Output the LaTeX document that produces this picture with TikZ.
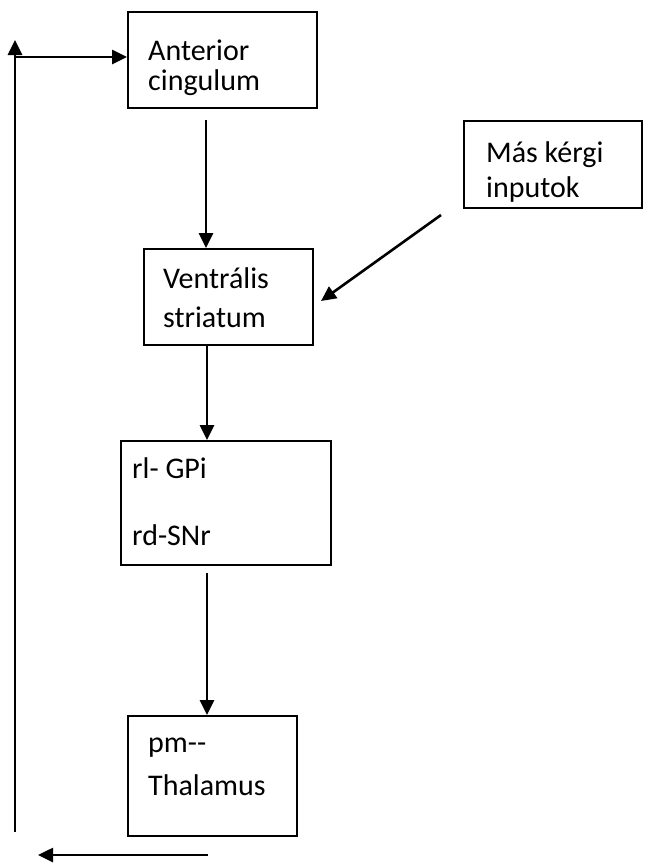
\documentclass[tikz,border=0pt]{standalone}
\usepackage{fontspec}
\setmainfont{Carlito}
\usetikzlibrary{arrows.meta}
\begin{document}
\begin{tikzpicture}[x=1pt,y=-1pt,
  box/.style={draw,line width=2pt,inner sep=0pt,anchor=north west},
  lbl/.style={anchor=base west,inner sep=0pt,font=\fontsize{30}{36}\selectfont},
  conn/.style={line width=2.6pt,-{Triangle[length=15pt,width=14pt]}}]
\useasboundingbox (0,0) rectangle (650,865);
% boxes
\node[box,minimum width=189pt,minimum height=96pt] (ac) at (127,11) {};
\node[box,minimum width=178pt,minimum height=87pt] (mk) at (463,120) {};
\node[box,minimum width=169pt,minimum height=96pt] (vs) at (143,248) {};
\node[box,minimum width=210pt,minimum height=124pt] (gp) at (120,440) {};
\node[box,minimum width=169pt,minimum height=120pt] (th) at (127,715) {};
% labels
\node[lbl] (t1) at (148,60) {Anterior};
\node[lbl] (t2) at (148,90) {cingulum};
\node[lbl] (t3) at (486,162) {Más kérgi};
\node[lbl] (t4) at (486,197) {inputok};
\node[lbl] (t5) at (163,288) {Ventrális};
\node[lbl] (t6) at (163,327) {striatum};
\node[lbl] (t7) at (132,478) {rl- GPi};
\node[lbl] (t8) at (132,545) {rd-SNr};
\node[lbl] (t9) at (148,752) {pm-{}-};
\node[lbl] (t10) at (148,795) {Thalamus};
% connector end points
\coordinate (a1) at (206,120);
\coordinate (a2) at (206,248);
\coordinate (b1) at (441,215);
\coordinate (b2) at (321,301);
\coordinate (c1) at (207,344);
\coordinate (c2) at (207,440);
\coordinate (d1) at (207,573);
\coordinate (d2) at (207,715);
\coordinate (e1) at (208,855);
\coordinate (e2) at (38,855);
\coordinate (f1) at (15,832);
\coordinate (f2) at (15,40);
\coordinate (g1) at (15,57);
\coordinate (g2) at (127,57);
% connectors
\draw[conn] (a1) -- (a2);
\draw[conn] (b1) -- (b2);
\draw[conn] (c1) -- (c2);
\draw[conn] (d1) -- (d2);
\draw[conn] (e1) -- (e2);
\draw[conn] (f1) -- (f2);
\draw[conn] (g1) -- (g2);
\end{tikzpicture}
\end{document}
